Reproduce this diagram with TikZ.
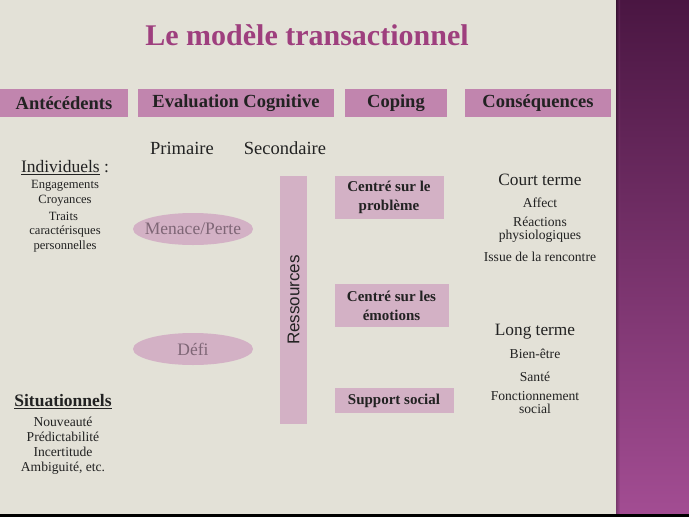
\documentclass[tikz,border=0pt]{standalone}
\usepackage{fontspec}
\setmainfont{Liberation Serif}
\setsansfont{Liberation Sans}
\usetikzlibrary{shapes.geometric}
\definecolor{slidebg}{HTML}{E3E1D7}
\definecolor{headfill}{HTML}{C185AE}
\definecolor{lightpink}{HTML}{D3B1C5}
\definecolor{titlecol}{HTML}{9E3F7E}
\definecolor{ovaltext}{HTML}{7E6676}
\definecolor{paneltop}{HTML}{4A1642}
\definecolor{panelbot}{HTML}{A34D93}
\definecolor{inktext}{HTML}{222222}
\begin{document}
\begin{tikzpicture}[x=1pt,y=-1pt, text=inktext,
  header/.style={fill=headfill, minimum height=28pt, inner sep=0pt,
    font=\fontsize{18.5}{21}\selectfont\bfseries},
  copebox/.style={fill=lightpink, inner sep=0pt, align=center,
    font=\fontsize{15}{19}\selectfont\bfseries},
  appraisal/.style={ellipse, fill=lightpink, inner xsep=-6pt, inner ysep=0pt,
    minimum width=120pt, minimum height=32pt, text=ovaltext,
    font=\fontsize{17.5}{20}\selectfont},
  item/.style={align=center, inner sep=0pt, font=\fontsize{12.6}{15}\selectfont},
  result/.style={align=center, inner sep=0pt, font=\fontsize{13.6}{13}\selectfont},
  subhead/.style={inner sep=0pt, font=\fontsize{18.5}{21}\selectfont}]
  \useasboundingbox (0, 0) rectangle (689, 517);
  \fill[slidebg] (0, 0) rectangle (616, 517);
  \shade[top color=paneltop, bottom color=panelbot] (616, 0) rectangle (689, 517);
  \shade[left color=black, right color=panelbot, opacity=.25] (616, 0) rectangle (620, 517);
  \fill[black] (0, 514) rectangle (689, 517);

  \node at(307, 35) [text=titlecol, font=\fontsize{30}{34}\selectfont\bfseries](title){Le modèle transactionnel};

  \node at(64, 103) [header, minimum width=128pt](ante){Antécédents};
  \node at(236, 103) [header, minimum width=196pt](eval){Evaluation Cognitive};
  \node at(396, 103) [header, minimum width=102pt](coping){Coping};
  \node at(538, 103) [header, minimum width=146pt](cons){Conséquences};

  \node at(182, 148) [subhead](prim){Primaire};
  \node at(285, 148) [subhead](second){Secondaire};

  \node at(65, 168) [subhead, font=\fontsize{17.5}{20}\selectfont](indiv){\underline{Individuels} :};
  \foreach \y/\t [count=\i] in {186/Engagements, 201/Croyances, 216/Traits /,
    231/caractérisques, 246/personnelles}
  \node at(65, \y) [item](indiv\i){\t};

  \node at(63, 402) [subhead, font=\fontsize{17.5}{20}\selectfont\bfseries](situ){\underline{Situationnels}};
  \foreach \y/\t [count=\i] in {421.5/Nouveauté, 436.5/Prédictabilité, 452/Incertitude,
    468/{Ambiguité, etc.}}
  \node at(63, \y) [item, font=\fontsize{13.6}{15}\selectfont](situ\i){\t};

  \node at(193, 229) [appraisal](menace){Menace/Perte};
  \node at(193, 349) [appraisal](defi){Défi};

  \node at(293.5, 300) [fill=lightpink, rotate=90, inner sep=0pt, minimum width=248pt,
    minimum height=27pt, font=\sffamily\fontsize{17}{20}\selectfont](res){Ressources};

  \node at(389, 197.5) [copebox, minimum width=109pt, minimum height=43pt](prob){Centré sur le\\problème};
  \node at(391.5, 305.5) [copebox, minimum width=114pt, minimum height=43pt](emo){Centré sur les\\émotions};
  \node at(394, 400.5) [copebox, minimum width=119pt, minimum height=25pt](social){Support social};

  \node at(540, 180) [subhead, font=\fontsize{17.3}{20}\selectfont](court){Court terme};
  \foreach \y/\t [count=\i] in {202.5/Affect, 229.5/{Réactions\\physiologiques},
    257/Issue de la rencontre}
  \node at(540, \y) [result](court\i){\t};

  \node at(535, 332) [subhead, font=\fontsize{17.3}{20}\selectfont](long){Long terme};
  \foreach \y/\t [count=\i] in {354/Bien-être, 376.5/Santé, 402.5/{Fonctionnement\\social}}
  \node at(535, \y) [result](long\i){\t};
\end{tikzpicture}
\end{document}
